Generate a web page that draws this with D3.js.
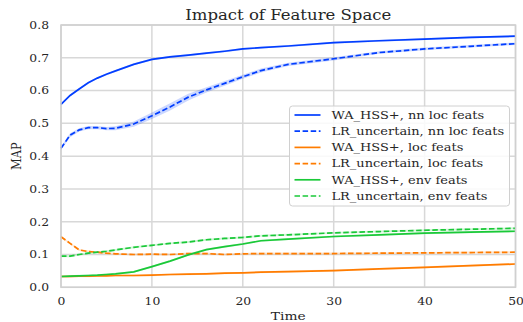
<!DOCTYPE html>
<html>
<head>
<meta charset="utf-8">
<script src="https://cdn.jsdelivr.net/npm/d3@7"></script>
<style>
  html, body { margin: 0; padding: 0; background: #fff; }
  svg { display: block; }
  text { font-family: "DejaVu Serif", serif; fill: #262626; }
</style>
</head>
<body>
<svg id="chart" width="523" height="322"></svg>
<script>
// Time steps at which MAP was recorded
const time = [0, 1, 2, 3, 4, 5, 6, 8, 10, 12, 14, 16, 18, 20, 22, 25, 30, 35, 40, 45, 50];

// Mean MAP per method / feature set
const waNnLoc = [0.558, 0.585, 0.605, 0.624, 0.638, 0.650, 0.660, 0.680, 0.695, 0.703, 0.708, 0.714, 0.720, 0.727, 0.731, 0.736, 0.746, 0.752, 0.757, 0.762, 0.766];
const lrNnLoc = [0.424, 0.464, 0.480, 0.487, 0.487, 0.484, 0.485, 0.498, 0.523, 0.550, 0.580, 0.602, 0.622, 0.642, 0.661, 0.680, 0.697, 0.716, 0.727, 0.735, 0.743];
const waLoc   = [0.033, 0.033, 0.034, 0.034, 0.035, 0.035, 0.036, 0.036, 0.037, 0.039, 0.040, 0.041, 0.043, 0.044, 0.046, 0.048, 0.051, 0.056, 0.061, 0.066, 0.071];
const lrLoc   = [0.154, 0.134, 0.114, 0.109, 0.107, 0.104, 0.102, 0.100, 0.101, 0.100, 0.103, 0.103, 0.100, 0.102, 0.103, 0.103, 0.103, 0.104, 0.105, 0.106, 0.107];
const waEnv   = [0.033, 0.034, 0.035, 0.036, 0.037, 0.039, 0.041, 0.047, 0.063, 0.080, 0.099, 0.115, 0.124, 0.132, 0.142, 0.147, 0.155, 0.160, 0.165, 0.168, 0.171];
const lrEnv   = [0.095, 0.095, 0.100, 0.104, 0.107, 0.110, 0.114, 0.122, 0.128, 0.134, 0.138, 0.145, 0.149, 0.152, 0.157, 0.160, 0.166, 0.170, 0.174, 0.177, 0.180];

// Half-width of the confidence band around each mean
const ciNarrow = [0.003, 0.003, 0.003, 0.003, 0.003, 0.003, 0.003, 0.003, 0.003, 0.003, 0.003, 0.003, 0.003, 0.003, 0.003, 0.003, 0.003, 0.003, 0.003, 0.003, 0.003];
const ciLrNnLoc = [0.005, 0.006, 0.005, 0.005, 0.005, 0.005, 0.006, 0.008, 0.010, 0.011, 0.010, 0.008, 0.007, 0.006, 0.006, 0.005, 0.005, 0.004, 0.004, 0.004, 0.004];

// Axis ticks
const xTicks = [0, 10, 20, 30, 40, 50];
const yTicks = [0.0, 0.1, 0.2, 0.3, 0.4, 0.5, 0.6, 0.7, 0.8];

const labels = [
  "WA_HSS+, nn loc feats",
  "LR_uncertain, nn loc feats",
  "WA_HSS+, loc feats",
  "LR_uncertain, loc feats",
  "WA_HSS+, env feats",
  "LR_uncertain, env feats"
];
const colors = ["#023eff", "#023eff", "#ff7c00", "#ff7c00", "#1ac938", "#1ac938"];
const dashed = [false, true, false, true, false, true];
const values = [waNnLoc, lrNnLoc, waLoc, lrLoc, waEnv, lrEnv];
const bands = [ciNarrow, ciLrNnLoc, ciNarrow, ciNarrow, ciNarrow, ciNarrow];

const series = labels.map((label, i) => ({
  label,
  color: colors[i],
  dashed: dashed[i],
  points: time.map((t, j) => ({ t, v: values[i][j], ci: bands[i][j] }))
}));

const W = 523, H = 322;
const margin = { top: 25, right: 7.5, bottom: 34.7, left: 61 };
const svg = d3.select("#chart");

// The figure is rendered with glyphs slightly widened horizontally
const TEXT_STRETCH = 1.2;

const x = d3.scaleLinear().domain([0, 50]).range([margin.left, W - margin.right]);
const y = d3.scaleLinear().domain([0, 0.8]).range([H - margin.bottom, margin.top]);

// Grid
const grid = svg.append("g");
grid.selectAll("line.gx").data(xTicks).join("line")
  .attr("x1", d => x(d)).attr("x2", d => x(d))
  .attr("y1", y(0)).attr("y2", y(0.8))
  .attr("stroke", "#d8d8d8").attr("stroke-width", 1.5);
grid.selectAll("line.gy").data(yTicks).join("line")
  .attr("x1", x(0)).attr("x2", x(50))
  .attr("y1", d => y(d)).attr("y2", d => y(d))
  .attr("stroke", "#d8d8d8").attr("stroke-width", 1.5);

// Axes (labels only, seaborn whitegrid style)
const xAxis = svg.append("g")
  .attr("transform", `translate(0,${y(0)})`)
  .call(d3.axisBottom(x).tickValues(xTicks).tickSize(0).tickPadding(10).tickFormat(d3.format("d")));
const yAxis = svg.append("g")
  .attr("transform", `translate(${x(0)},0)`)
  .call(d3.axisLeft(y).tickValues(yTicks).tickSize(0).tickPadding(12).tickFormat(d3.format(".1f")));
[xAxis, yAxis].forEach(a => {
  a.select(".domain").remove();
  a.selectAll("text")
    .style("font-family", "'DejaVu Serif', serif")
    .style("font-size", "10.3px")
    .attr("fill", "#262626");
});
xAxis.selectAll("text").attr("transform", `scale(${TEXT_STRETCH},1)`);
yAxis.selectAll("text")
  .attr("x", 0)
  .attr("transform", `translate(-12,0) scale(${TEXT_STRETCH},1)`);

// Confidence bands
const area = d3.area()
  .x(d => x(d.t))
  .y0(d => y(d.v - d.ci))
  .y1(d => y(d.v + d.ci));
svg.append("g").selectAll("path").data(series).join("path")
  .attr("d", d => area(d.points))
  .attr("fill", d => d.color)
  .attr("fill-opacity", 0.2)
  .attr("stroke", "none");

// Mean lines
const line = d3.line().x(d => x(d.t)).y(d => y(d.v));
svg.append("g").selectAll("path").data(series).join("path")
  .attr("d", d => line(d.points))
  .attr("fill", "none")
  .attr("stroke", d => d.color)
  .attr("stroke-width", 1.7)
  .attr("stroke-dasharray", d => d.dashed ? "5.5,2.6" : null);

// Plot frame
svg.append("rect")
  .attr("x", x(0)).attr("y", y(0.8))
  .attr("width", x(50) - x(0)).attr("height", y(0) - y(0.8))
  .attr("fill", "none").attr("stroke", "#d0d0d0").attr("stroke-width", 1.5);

// Titles
const cx = (x(0) + x(50)) / 2;
svg.append("text")
  .attr("transform", `translate(${cx},20) scale(1.18,1)`)
  .attr("text-anchor", "middle")
  .style("font-size", "14px")
  .text("Impact of Feature Space");
svg.append("text")
  .attr("transform", `translate(${cx},320) scale(${TEXT_STRETCH},1)`)
  .attr("text-anchor", "middle")
  .style("font-size", "11.5px")
  .text("Time");
svg.append("text")
  .attr("transform", `translate(20.5,${(y(0) + y(0.8)) / 2}) scale(${TEXT_STRETCH},1) rotate(-90)`)
  .attr("text-anchor", "middle")
  .style("font-size", "11.5px")
  .text("MAP");

// Legend
const legend = svg.append("g").attr("transform", "translate(289.5,106)");
legend.append("rect")
  .attr("width", 220).attr("height", 100)
  .attr("rx", 3)
  .attr("fill", "#fff").attr("fill-opacity", 0.85)
  .attr("stroke", "#d0d0d0").attr("stroke-width", 1);
const rows = legend.selectAll("g.row").data(series).join("g")
  .attr("transform", (d, i) => `translate(0,${9 + i * 16.2})`);
rows.append("line")
  .attr("x1", 5).attr("x2", 31)
  .attr("stroke", d => d.color)
  .attr("stroke-width", 1.7)
  .attr("stroke-dasharray", d => d.dashed ? "5.5,2.6" : null);
rows.append("text")
  .attr("transform", "translate(42,0) scale(1.18,1)")
  .attr("dy", "0.35em")
  .style("font-size", "11px")
  .text(d => d.label);
</script>
</body>
</html>
